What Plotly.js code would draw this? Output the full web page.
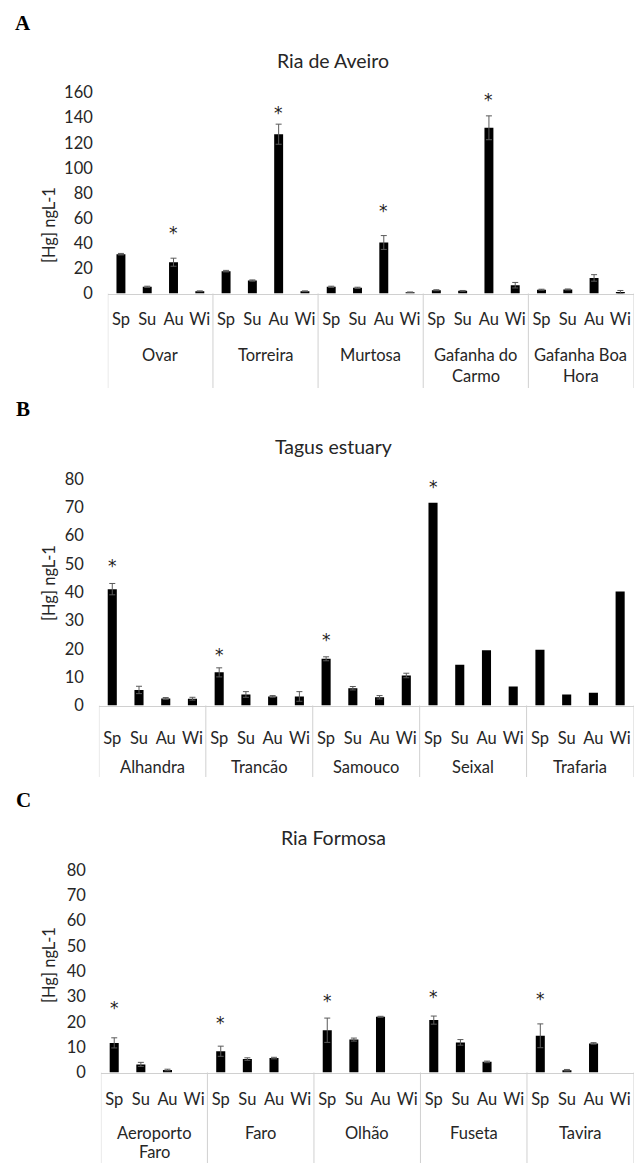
<!DOCTYPE html>
<html><head><meta charset="utf-8">
<script src="https://cdn.plot.ly/plotly-3.0.1.min.js"></script>
<style>html,body{margin:0;padding:0;background:#fff}</style>
</head><body><div id="chart" style="width:638px;height:1163px"></div>
<script>
// ---------- data ----------
const seasons = ['Sp', 'Su', 'Au', 'Wi'];

const aveiroSites = ['Ovar', 'Torreira', 'Murtosa', 'Gafanha do\nCarmo', 'Gafanha Boa\nHora'];
const aveiroHg  = [31.3, 5.3, 24.9, 1.8,  17.8, 10.3, 126.8, 1.8,  5.3, 4.5, 40.6, 1.0,  2.6, 2.1, 131.9, 6.6,  3.0, 3.2, 12.4, 1.2];
const aveiroErr = [0.6, 0.5, 3.2, 0.3,  0.6, 0.5, 8.0, 0.3,  0.5, 0.5, 5.5, 0.2,  0.4, 0.3, 9.5, 2.2,  0.4, 0.4, 2.6, 1.2];
const aveiroStarIdx = [2, 6, 10, 14];
const aveiroStarY   = [51, 147, 69, 157];

const tagusSites = ['Alhandra', 'Trancão', 'Samouco', 'Seixal', 'Trafaria'];
const tagusHg  = [41.1, 5.5, 2.5, 2.4,  11.7, 3.9, 3.2, 3.2,  16.5, 6.1, 2.9, 10.6,  71.6, 14.4, 19.5, 6.7,  19.7, 3.9, 4.5, 40.3];
const tagusErr = [2.0, 1.3, 0.3, 0.5,  1.6, 1.0, 0.3, 1.7,  0.7, 0.6, 0.6, 0.8,  null, null, null, null,  null, null, null, null];
const tagusStarIdx = [0, 4, 8, 12];
const tagusStarY   = [50.7, 19.1, 24.7, 78.5];

const formosaSites = ['Aeroporto\nFaro', 'Faro', 'Olhão', 'Fuseta', 'Tavira'];
const formosaHg  = [11.7, 3.2, 1.0, null,  8.4, 5.3, 5.7, null,  16.7, 13.0, 22.0, null,  20.7, 11.9, 4.2, null,  14.5, 0.9, 11.5, null];
const formosaErr = [2.0, 0.8, 0.3, null,  2.0, 0.5, 0.3, null,  4.8, 0.6, 0.2, null,  1.6, 1.1, 0.3, null,  4.7, 0.3, 0.3, null];
const formosaStarIdx = [0, 4, 8, 12, 16];
const formosaStarY   = [27, 21.3, 29.7, 31.6, 30.6];

const panelLetters = ['A', 'B', 'C'];
const panelTitles = ['Ria de Aveiro', 'Tagus estuary', 'Ria Formosa'];
const yTitle = '[Hg] ngL-1';
const yMax = [160, 80, 80];
const yStep = [20, 10, 10];

// ---------- layout geometry (pixels) ----------
const W = 638, H = 1163;
const FONT = 'Lato, "Open Sans", sans-serif';
const TXT = '#262626';
const LINE = '#d0d0d0';
const geo = [
  {left: 107.8, right: 633.5, top: 92.5, base: 293.5, letterY: 23, titleY: 61, yTitleY: 225, tickStand: 11, groupY: 355, lineGap: 21, divBottom: 388},
  {left: 98.9,  right: 633.5, top: 479,  base: 705.5, letterY: 409, titleY: 446, yTitleY: 583, tickStand: 18, groupY: 767, lineGap: 21, divBottom: 777},
  {left: 100.9, right: 633.5, top: 870,  base: 1072.5, letterY: 800, titleY: 837, yTitleY: 965, tickStand: 12, groupY: 1133, lineGap: 18.5, divBottom: 1163}
];
const px = v => v / W;
const py = v => 1 - v / H;

const panels = [
  {sites: aveiroSites, hg: aveiroHg, err: aveiroErr, si: aveiroStarIdx, sy: aveiroStarY},
  {sites: tagusSites, hg: tagusHg, err: tagusErr, si: tagusStarIdx, sy: tagusStarY},
  {sites: formosaSites, hg: formosaHg, err: formosaErr, si: formosaStarIdx, sy: formosaStarY}
];

const traces = [];
const annotations = [];
const shapes = [];
const layout = {
  width: W, height: H,
  margin: {l: 0, r: 0, t: 0, b: 0},
  paper_bgcolor: '#fff', plot_bgcolor: 'rgba(0,0,0,0)',
  showlegend: false,
  font: {family: FONT, color: TXT},
  annotations: annotations, shapes: shapes
};

panels.forEach((p, k) => {
  const g = geo[k];
  const xa = k === 0 ? 'x' : 'x' + (k + 1);
  const ya = k === 0 ? 'y' : 'y' + (k + 1);
  const xName = k === 0 ? 'xaxis' : 'xaxis' + (k + 1);
  const yName = k === 0 ? 'yaxis' : 'yaxis' + (k + 1);
  const n = p.hg.length;
  const idx = p.hg.map((_, i) => i);
  const labels = idx.map(i => seasons[i % seasons.length]);

  traces.push({
    type: 'bar', x: idx, y: p.hg, xaxis: xa, yaxis: ya,
    width: 0.34,
    marker: {color: '#000', line: {width: 0}},
    error_y: {type: 'data', visible: true,
      array: p.err.map(v => v == null ? NaN : v),
      color: '#5a5a5a', thickness: 1, width: 3},
    hoverinfo: 'x+y'
  });

  // significance asterisks
  p.si.forEach((xi, j) => {
    annotations.push({xref: xa, yref: ya, x: xi, y: p.sy[j], yshift: -4,
      xanchor: 'center', yanchor: 'middle', showarrow: false, text: '*',
      font: {family: '"DejaVu Sans", sans-serif', size: 17, color: '#222'}});
  });

  layout[xName] = {
    domain: [px(g.left), px(g.right)], anchor: ya,
    range: [-0.5, n - 0.5], fixedrange: true,
    tickmode: 'array', tickvals: idx, ticktext: labels,
    ticks: '', ticklabelstandoff: g.tickStand,
    tickfont: {size: 16.5, family: FONT, color: TXT},
    showgrid: false, zeroline: false,
    showline: true, linecolor: LINE, linewidth: 1,
    automargin: false
  };
  layout[yName] = {
    domain: [py(g.base), py(g.top)], anchor: xa,
    range: [0, yMax[k]], dtick: yStep[k], tick0: 0,
    ticks: '', ticklabelstandoff: 14,
    tickfont: {size: 16.5, family: FONT, color: TXT},
    showgrid: false, zeroline: false, showline: false,
    automargin: false
  };

  // panel letter
  annotations.push({xref: 'paper', yref: 'paper', x: px(23), y: py(g.letterY),
    xanchor: 'center', yanchor: 'middle', showarrow: false, text: '<b>' + panelLetters[k] + '</b>',
    font: {family: '"Liberation Serif", "Times New Roman", serif', size: 21, color: '#000'}});
  // title
  annotations.push({xref: 'paper', yref: 'paper', x: px(333), y: py(g.titleY),
    xanchor: 'center', yanchor: 'middle', showarrow: false, text: panelTitles[k],
    font: {family: FONT, size: 19.5, color: TXT}});
  // y title
  annotations.push({xref: 'paper', yref: 'paper', x: px(49), y: py(g.yTitleY),
    xanchor: 'center', yanchor: 'middle', showarrow: false, textangle: -90, text: yTitle,
    font: {family: FONT, size: 16.5, color: TXT}});
  // group labels
  p.sites.forEach((s, gi) => {
    s.split('\n').forEach((line, li) => {
      annotations.push({xref: xa, yref: 'paper', x: gi * 4 + 1.5, y: py(g.groupY + li * g.lineGap),
        xanchor: 'center', yanchor: 'middle', showarrow: false, text: line, borderpad: 0,
        font: {family: FONT, size: 16.5, color: TXT}});
    });
  });
  // group dividers
  for (let gi = 0; gi <= p.sites.length; gi++) {
    shapes.push({type: 'line', xref: xa, yref: 'paper', x0: gi * 4 - 0.5, x1: gi * 4 - 0.5,
      y0: py(g.base), y1: py(g.divBottom), line: {color: LINE, width: 1}});
  }
});

Plotly.newPlot('chart', traces, layout, {displayModeBar: false, staticPlot: true});
</script></body></html>
